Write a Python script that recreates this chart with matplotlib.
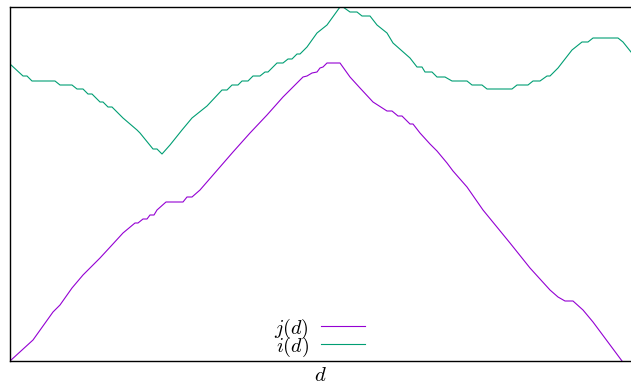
import matplotlib
matplotlib.use("Agg")
import matplotlib.pyplot as plt

plt.rcParams['mathtext.fontset'] = 'cm'

# j(d) trace
d_j = [0, 23, 43, 50, 62, 73, 82, 90, 102, 113, 125, 128, 133, 137, 140, 144, 147, 156,
       173, 177, 182, 190, 223, 240, 257, 273, 283, 293, 297, 302, 307, 310, 313, 317,
       330, 340, 350, 363, 377, 382, 388, 392, 400, 403, 410, 420, 427, 437, 443, 457,
       473, 500, 520, 540, 548, 555, 563, 573, 583, 612]
j_vals = [0, 21, 49, 56, 73, 86, 95, 103, 116, 128, 138, 138, 142, 142, 146, 146, 151, 159,
          159, 164, 164, 171, 209, 228, 246, 264, 274, 284, 285, 288, 289, 293, 294, 298,
          298, 284, 273, 259, 250, 250, 245, 245, 237, 237, 228, 217, 210, 198, 190, 174,
          151, 118, 93, 71, 64, 60, 60, 51, 39, 0]

# i(d) trace
d_i = [0, 13, 17, 22, 45, 50, 62, 67, 73, 78, 82, 90, 93, 98, 102, 113, 127, 130, 143, 147,
       152, 160, 172, 182, 197, 212, 217, 222, 228, 232, 238, 243, 250, 255, 258, 267, 273,
       278, 282, 287, 290, 297, 307, 317, 330, 333, 340, 347, 352, 360, 367, 377, 383, 400,
       407, 412, 415, 422, 427, 435, 442, 457, 462, 472, 477, 502, 507, 518, 523, 530, 537,
       540, 548, 562, 572, 578, 583, 608, 613, 621]
i_vals = [297, 285, 285, 280, 280, 276, 276, 272, 272, 267, 267, 259, 259, 254, 254, 243, 231,
          228, 212, 212, 207, 216, 231, 243, 255, 271, 271, 276, 276, 280, 280, 285, 285, 289,
          289, 298, 298, 302, 302, 307, 307, 314, 328, 336, 354, 354, 349, 349, 345, 345, 336,
          328, 318, 303, 294, 294, 289, 289, 284, 284, 280, 280, 276, 276, 272, 272, 276, 276,
          280, 280, 285, 285, 293, 311, 319, 319, 323, 323, 319, 309]

fig = plt.figure(figsize=(6.31, 3.85), dpi=100)
ax = fig.add_axes([10 / 631, 24 / 385, 621 / 631, 354 / 385])

ax.plot(d_j, j_vals, color='#9400d3', lw=0.8, label=r'$j(d)$')
ax.plot(d_i, i_vals, color='#009e73', lw=0.8, label=r'$i(d)$')

ax.set_xlim(0, 621)
ax.set_ylim(0, 354)
ax.set_xticks([])
ax.set_yticks([])
ax.spines['right'].set_visible(False)
for s in ['left', 'top', 'bottom']:
    ax.spines[s].set_linewidth(1.0)

ax.set_xlabel(r'$d$', fontsize=15, labelpad=3)

ax.legend(loc='lower center', frameon=False, markerfirst=False, fontsize=14.5,
          handlelength=2.2, handletextpad=0.6, labelspacing=-0.3,
          borderaxespad=0.0, bbox_to_anchor=(0.499, -0.016))

fig.savefig('out.png', dpi=100)
